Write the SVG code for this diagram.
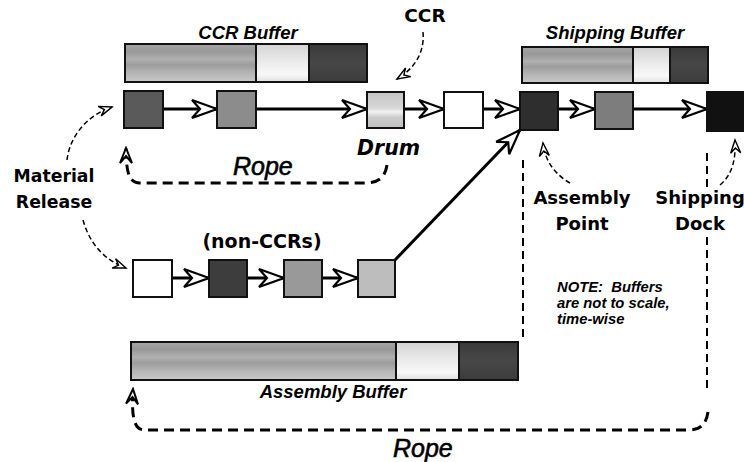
<svg xmlns="http://www.w3.org/2000/svg" width="744" height="462" viewBox="0 0 744 462">
<style>
.sq{stroke:#111;stroke-width:2}
.buf{stroke:#111;stroke-width:2}
.solid{fill:none;stroke:#000;stroke-width:3}
.rope{fill:none;stroke:#000;stroke-width:3;stroke-dasharray:10 6}
.thin{fill:none;stroke:#000;stroke-width:1.5;stroke-dasharray:5 3}
.vdash{fill:none;stroke:#000;stroke-width:2;stroke-dasharray:8 5}
.lbl{font-family:"DejaVu Sans",sans-serif;font-weight:bold;font-size:17.3px;fill:#000}
.buft{font-family:"Liberation Sans",Arial,sans-serif;font-weight:bold;font-style:italic;font-size:18.5px;fill:#000}
.note{font-family:"Liberation Sans",Arial,sans-serif;font-weight:bold;font-style:italic;font-size:14.8px;fill:#000}
.ropet{font-family:"Liberation Sans",Arial,sans-serif;font-style:italic;font-size:25px;fill:#000;stroke:#000;stroke-width:0.6}
</style>
<defs>
<linearGradient id="gMid" x1="0" y1="0" x2="0" y2="1">
<stop offset="0" stop-color="#a6a6a6"/><stop offset="0.2" stop-color="#989898"/><stop offset="0.4" stop-color="#b0b0b0"/><stop offset="0.55" stop-color="#9c9c9c"/><stop offset="0.75" stop-color="#b4b4b4"/><stop offset="1" stop-color="#c8c8c8"/>
</linearGradient>
<linearGradient id="gLight" x1="0" y1="0" x2="0" y2="1">
<stop offset="0" stop-color="#d4d4d4"/><stop offset="0.5" stop-color="#ececec"/><stop offset="0.8" stop-color="#f8f8f8"/><stop offset="1" stop-color="#e0e0e0"/>
</linearGradient>
<linearGradient id="gDark" x1="0" y1="0" x2="0" y2="1">
<stop offset="0" stop-color="#3a3a3a"/><stop offset="0.5" stop-color="#474747"/><stop offset="1" stop-color="#3c3c3c"/>
</linearGradient>
<linearGradient id="gDrum" x1="0" y1="0" x2="0" y2="1">
<stop offset="0" stop-color="#c4c4c4"/><stop offset="0.45" stop-color="#d8d8d8"/><stop offset="0.55" stop-color="#f2f2f2"/><stop offset="0.7" stop-color="#cccccc"/><stop offset="1" stop-color="#c0c0c0"/>
</linearGradient>
<marker id="ah" viewBox="-28 -11 30 22" refX="0" refY="0" markerWidth="30" markerHeight="22" markerUnits="userSpaceOnUse" orient="auto">
<path d="M0,0 L-25,-9 L-17,0 L-25,9 Z" fill="#fff" stroke="#000" stroke-width="2.2" stroke-linejoin="miter"/>
</marker>
<marker id="ahs" viewBox="-16 -7 18 14" refX="0" refY="0" markerWidth="18" markerHeight="14" markerUnits="userSpaceOnUse" orient="auto">
<path d="M0,0 L-13,-5 L-8,0 L-13,5 Z" fill="#fff" stroke="#000" stroke-width="1.4"/>
</marker>
<marker id="ahr" viewBox="-17 -8 19 16" refX="0" refY="0" markerWidth="19" markerHeight="16" markerUnits="userSpaceOnUse" orient="auto">
<path d="M0,0 L-15,-6 L-8,0 L-15,6 Z" fill="#fff" stroke="#000" stroke-width="2"/>
</marker>
</defs>
<rect width="744" height="462" fill="#fff"/>

<g id="ccr-buffer">
<rect class="buf" x="125" y="44" width="131" height="38" fill="url(#gMid)"/>
<rect class="buf" x="256" y="44" width="53" height="38" fill="url(#gLight)"/>
<rect class="buf" x="309" y="44" width="58" height="38" fill="url(#gDark)"/>
<text class="buft" x="248" y="39" text-anchor="middle">CCR Buffer</text>
</g>
<g id="shipping-buffer">
<rect class="buf" x="522" y="47" width="111" height="36" fill="url(#gMid)"/>
<rect class="buf" x="633" y="47" width="37" height="36" fill="url(#gLight)"/>
<rect class="buf" x="670" y="47" width="38" height="36" fill="url(#gDark)"/>
<text class="buft" x="615" y="39" text-anchor="middle">Shipping Buffer</text>
</g>
<g id="assembly-buffer">
<rect class="buf" x="131" y="342" width="265" height="38" fill="url(#gMid)"/>
<rect class="buf" x="396" y="342" width="63" height="38" fill="url(#gLight)"/>
<rect class="buf" x="459" y="342" width="59" height="38" fill="url(#gDark)"/>
<text class="buft" x="333" y="398" text-anchor="middle">Assembly Buffer</text>
</g>

<g id="connectors">
<line class="solid" x1="163" y1="109" x2="217" y2="109" marker-end="url(#ah)"/>
<line class="solid" x1="256" y1="109" x2="367" y2="109" marker-end="url(#ah)"/>
<line class="solid" x1="404" y1="109" x2="444" y2="109" marker-end="url(#ah)"/>
<line class="solid" x1="483" y1="109" x2="520" y2="109" marker-end="url(#ah)"/>
<line class="solid" x1="558" y1="109" x2="595" y2="109" marker-end="url(#ah)"/>
<line class="solid" x1="633" y1="109" x2="707" y2="109" marker-end="url(#ah)"/>
<line class="solid" x1="172" y1="278" x2="209" y2="278" marker-end="url(#ah)"/>
<line class="solid" x1="247" y1="278" x2="284" y2="278" marker-end="url(#ah)"/>
<line class="solid" x1="322" y1="278" x2="358" y2="278" marker-end="url(#ah)"/>
<line class="solid" x1="395" y1="260" x2="520" y2="130" marker-end="url(#ah)"/>
<path class="thin" d="M423,32 C425,55 412,70 397,79" marker-end="url(#ahs)"/>
<path class="thin" d="M67,160 C70,135 88,115 112,107" marker-end="url(#ahs)"/>
<path class="thin" d="M83,220 C90,245 105,260 126,268" marker-end="url(#ahs)"/>
<path class="thin" d="M570,183 C556,175 545,162 543,143" marker-end="url(#ahs)"/>
<path class="thin" d="M720,185 C732,175 736,160 735,140" marker-end="url(#ahs)"/>
<path class="rope" d="M387,165 C385,178 378,183 365,183 L140,183 C130,183 126,175 126,148" marker-end="url(#ahr)"/>
<path class="rope" d="M708,412 C706,425 700,430 688,430 L145,430 C135,430 131,420 133,389" marker-end="url(#ahr)"/>
<path class="vdash" d="M523,160 L523,340"/>
<path class="vdash" d="M707,153 L707,187"/>
<path class="vdash" d="M707,237 L707,393"/>
</g>

<g id="sq1"><rect class="sq" x="124" y="91" width="39" height="37" fill="#5a5a5a"/></g>
<g id="sq2"><rect class="sq" x="217" y="91" width="39" height="37" fill="#8c8c8c"/></g>
<g id="drum"><rect class="sq" x="367" y="92" width="37" height="36" fill="url(#gDrum)"/>
<text class="lbl" x="357" y="155" style="font-style:oblique;font-size:20.5px">Drum</text></g>
<g id="sq4"><rect class="sq" x="444" y="92" width="39" height="36" fill="#fff"/></g>
<g id="assembly-point"><rect class="sq" x="520" y="92" width="38" height="38" fill="#2e2e2e"/>
<text class="lbl" x="582" y="204" text-anchor="middle" style="font-size:18px">Assembly</text>
<text class="lbl" x="582" y="230" text-anchor="middle" style="font-size:18px">Point</text></g>
<g id="sq6"><rect class="sq" x="595" y="92" width="38" height="37" fill="#7d7d7d"/></g>
<g id="shipping-dock"><rect class="sq" x="707" y="92" width="40" height="39" fill="#111"/>
<text class="lbl" x="700" y="204" text-anchor="middle" style="font-size:18px">Shipping</text>
<text class="lbl" x="700" y="230" text-anchor="middle" style="font-size:18px">Dock</text></g>

<g id="nc1"><rect class="sq" x="133" y="260" width="39" height="37" fill="#fff"/></g>
<g id="nc2"><rect class="sq" x="209" y="260" width="38" height="37" fill="#3d3d3d"/></g>
<g id="nc3"><rect class="sq" x="284" y="260" width="38" height="37" fill="#999"/></g>
<g id="nc4"><rect class="sq" x="358" y="260" width="37" height="37" fill="#bdbdbd"/></g>

<g id="labels">
<text class="lbl" x="425" y="22" text-anchor="middle" style="font-size:18.5px">CCR</text>
<text class="lbl" x="54" y="182" text-anchor="middle">Material</text>
<text class="lbl" x="54" y="208" text-anchor="middle">Release</text>
<text class="lbl" x="262" y="248" text-anchor="middle" style="font-size:19px">(non-CCRs)</text>
<text class="ropet" x="233" y="175">Rope</text>
<text class="ropet" x="393" y="457">Rope</text>
<text class="note" x="557" y="292" xml:space="preserve">NOTE:  Buffers</text>
<text class="note" x="557" y="308">are not to scale,</text>
<text class="note" x="557" y="324">time-wise</text>
</g>
</svg>
